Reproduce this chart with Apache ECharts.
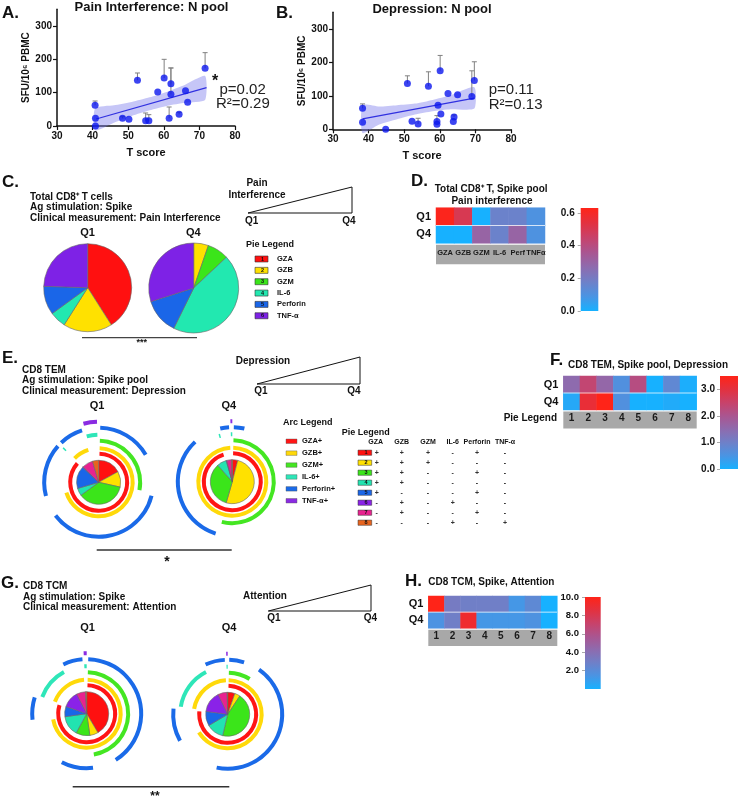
<!DOCTYPE html>
<html><head><meta charset="utf-8">
<script src="https://cdn.jsdelivr.net/npm/echarts@6.0.0/dist/echarts.min.js"></script>
<style>html,body{margin:0;padding:0;background:#fff;}#chart{width:738px;height:800px;}</style>
</head><body><div id="chart"></div>
<script>
// ================= DATA =================
const tScoreTicks = [30, 40, 50, 60, 70, 80];
const sfuTicks = [0, 100, 200, 300];

// Panel A: Pain Interference, N pool
const painT = [40.7, 40.8, 40.8, 48.4, 50.2, 52.6, 54.9, 55.8, 58.3, 60.1, 61.5, 62.0, 62.0, 64.3, 66.1, 66.7, 71.6];
const painSFU = [62, 23, 0, 23, 20, 137, 16, 16, 102, 144, 23, 127, 95, 35, 106, 71, 173];
const painSFUUpper = [75, null, null, 28, null, 159, 39, 34, null, 200, 57, 174, 174, 41, null, null, 220];
const painFitT = [41, 72];
const painFitSFU = [21, 115];
const painBandT = [40.7, 46, 51, 56, 61, 66, 71.6];
const painBandLo = [-13, 10, 30, 47, 61, 70, 78];
const painBandHi = [53, 62, 72, 86, 103, 124, 150];

// Panel B: Depression, N pool
const deprT = [38.3, 38.3, 44.8, 50.9, 52.2, 53.9, 56.8, 59.2, 59.2, 59.5, 60.1, 60.3, 62.3, 63.8, 64.0, 65.0, 69.0, 69.7];
const deprSFU = [63, 21, 0, 137, 24, 16, 129, 23, 15, 72, 175, 46, 107, 23, 37, 103, 98, 146];
const deprSFUUpper = [76, null, null, 160, null, 33, 172, 41, null, null, 221, null, null, null, 43, null, 175, 202];
const deprFitT = [38.3, 69.7];
const deprFitSFU = [31, 93];
const deprBandT = [38.3, 43, 48, 53, 58, 63, 69.7];
const deprBandLo = [-11, 14, 30, 44, 54, 60, 62];
const deprBandHi = [72, 68, 72, 77, 88, 102, 126];

// Panel C: pies (percent of cells)
const cytokines = ['GZA', 'GZB', 'GZM', 'IL-6', 'Perforin', 'TNF-α'];
const pieCQ1 = [41, 18, 0, 6, 10.5, 24.5];
const pieCQ4 = [0, 5.3, 7.7, 44.3, 12.8, 29.9];

// Panel D: heatmap
const heatDCols = ['GZA', 'GZB', 'GZM', 'IL-6', 'Perf', 'TNFα'];
const heatRows = ['Q4', 'Q1'];
const heatDQ1 = [0.62, 0.5, 0.0, 0.17, 0.17, 0.1];
const heatDQ4 = [0.0, 0.0, 0.3, 0.17, 0.3, 0.1];
const heatDTicks = [0, 0.2, 0.4, 0.6];

// Panel E / G: SPICE pies
const arcLegend = ['GZA+', 'GZB+', 'GZM+', 'IL-6+', 'Perforin+', 'TNF-α+'];
const phenotypeCols = ['GZA', 'GZB', 'GZM', 'IL-6', 'Perforin', 'TNF-α'];
const phenotypes = [
  ['+', '+', '+', '-', '+', '-'],
  ['+', '+', '+', '-', '-', '-'],
  ['+', '+', '-', '-', '+', '-'],
  ['+', '+', '-', '-', '-', '-'],
  ['+', '-', '-', '-', '+', '-'],
  ['-', '+', '-', '+', '-', '-'],
  ['-', '+', '-', '-', '+', '-'],
  ['-', '-', '-', '+', '-', '+']
];
const pieEQ1 = [17, 11.5, 36.5, 5.5, 16.5, 0.5, 8, 4.5];
const pieEQ4 = [4, 50.5, 34, 7, 0, 0.5, 3.5, 0.5];
const pieGQ1 = [41.5, 6.2, 10.3, 14.8, 7.5, 12.2, 6.7, 0.8];
const pieGQ4 = [5.3, 4, 44.4, 12.8, 10.6, 15.8, 6.7, 0.4];

// Panel F / H heatmaps
const heatNumCols = ['1', '2', '3', '4', '5', '6', '7', '8'];
const heatFQ1 = [1.5, 2.4, 1.6, 0.6, 2.2, 0.0, 0.8, 0.05];
const heatFQ4 = [0.15, 3.1, 3.5, 0.6, 0.0, 0.0, 0.1, 0.0];
const heatFTicks = [0, 1, 2, 3];
const heatHQ1 = [10, 3.2, 2.9, 2.9, 2.9, 1.3, 2.2, 0];
const heatHQ4 = [1.5, 2.9, 9.2, 1.3, 1.3, 1.3, 1.6, 0];
const heatHTicks = [2, 4, 6, 8, 10];

// ================= STYLE =================
const FONT = '"Liberation Sans", Arial, Helvetica, sans-serif';
const CMAP = ['#17B1FF', '#4A94E3', '#6F80C8', '#8E6BAE', '#AA5590', '#C8426A', '#E3313F', '#FF2418'];
const cytoColors = ['#FF1010', '#FFE100', '#3BE51A', '#22E8B0', '#1A66E8', '#7E22E6'];
const pieColors8 = ['#FF1010', '#FFE100', '#3BE51A', '#22E3B0', '#1A66E8', '#8A22E8', '#E8228F', '#E8641E'];
const ringColors = ['#FF1515', '#FFD90A', '#44E622', '#2EE6B8', '#1A6AE8', '#8A2BE2'];
const ringRadii = [[26.5, 30.5], [32, 36], [39.5, 43.5], [45.5, 49.5], [52.5, 56.5], [58.5, 62.5]];

const grids = [], xAxes = [], yAxes = [], series = [], visualMaps = [], G = [];

function addGrid(r) { grids.push(Object.assign({ containLabel: false, outerBoundsMode: 'none', show: false }, r)); return grids.length - 1; }
function txt(text, x, y, o) {
  o = o || {};
  const al = o.align || 'left';
  return { type: 'text', x, y, silent: true, z: o.z || 10,
    style: { text, fill: o.color || '#111', font: (o.weight || 'bold') + ' ' + (o.size || 10) + 'px ' + FONT,
      align: al, verticalAlign: 'middle', textAlign: al, textVerticalAlign: 'middle' } };
}
function line(x1, y1, x2, y2, o) { o = o || {}; return { type: 'line', silent: true, z: o.z || 10, shape: { x1, y1, x2, y2 }, style: { stroke: o.color || '#111', lineWidth: o.w || 1 } }; }
function rect(x, y, w, h, fill, o) { o = o || {}; return { type: 'rect', silent: true, z: o.z == null ? 10 : o.z, shape: { x, y, width: w, height: h }, style: { fill, stroke: o.stroke || null, lineWidth: o.lw || 0 } }; }
function tri(p) { return { type: 'polygon', silent: true, z: 10, shape: { points: p }, style: { fill: 'none', stroke: '#111', lineWidth: 1 } }; }

const boldLbl = (size, extra) => Object.assign({ fontFamily: FONT, fontWeight: 'bold', fontSize: size, color: '#111' }, extra || {});

// ---------- scatter panels ----------
function scatterPanel(rectDef, T, SFU, UP, fitT, fitS, bT, bLo, bHi) {
  const gi = addGrid(rectDef);
  xAxes.push({ type: 'value', gridIndex: gi, min: tScoreTicks[0], max: tScoreTicks[tScoreTicks.length - 1], interval: 10,
    name: 'T score', nameLocation: 'middle', nameGap: 21, nameTextStyle: boldLbl(11),
    axisLine: { show: true, onZero: false, lineStyle: { color: '#111', width: 1.5 } },
    axisTick: { show: true, length: 4, lineStyle: { color: '#111', width: 1.2 } },
    axisLabel: boldLbl(10, { margin: 5 }), splitLine: { show: false } });
  yAxes.push({ type: 'value', gridIndex: gi, min: 0, max: 350,
    name: 'SFU/10⁶ PBMC', nameLocation: 'middle', nameGap: 24, nameRotate: 90, nameTextStyle: boldLbl(10),
    axisLine: { show: true, onZero: false, lineStyle: { color: '#111', width: 1.5 } },
    axisTick: { show: true, length: 4, customValues: sfuTicks, lineStyle: { color: '#111', width: 1.2 } },
    axisLabel: boldLbl(10, { margin: 5, customValues: sfuTicks }), splitLine: { show: false } });
  series.push({ type: 'custom', xAxisIndex: gi, yAxisIndex: gi, silent: true, z: 1, clip: false,
    data: [[bT[0], bLo[0]]],
    renderItem: (params, api) => {
      const pts = [];
      bT.forEach((t, i) => pts.push(api.coord([t, bHi[i]])));
      for (let i = bT.length - 1; i >= 0; i--) pts.push(api.coord([bT[i], bLo[i]]));
      return { type: 'polygon', shape: { points: pts, smooth: 0.2 }, style: { fill: 'rgba(120,120,235,0.42)' } };
    } });
  series.push({ type: 'line', xAxisIndex: gi, yAxisIndex: gi, silent: true, z: 2, symbol: 'none',
    lineStyle: { color: '#3030E0', width: 1.2 }, data: fitT.map((t, i) => [t, fitS[i]]) });
  series.push({ type: 'custom', xAxisIndex: gi, yAxisIndex: gi, silent: true, z: 3, encode: { x: 0, y: 1 },
    data: T.map((t, i) => [t, SFU[i], UP[i]]).filter(d => d[2] != null),
    renderItem: (params, api) => {
      const p0 = api.coord([api.value(0), api.value(1)]);
      const p1 = api.coord([api.value(0), api.value(2)]);
      const st = { stroke: '#808080', lineWidth: 1 };
      return { type: 'group', children: [
        { type: 'line', shape: { x1: p0[0], y1: p0[1], x2: p1[0], y2: p1[1] }, style: st },
        { type: 'line', shape: { x1: p1[0] - 2.5, y1: p1[1], x2: p1[0] + 2.5, y2: p1[1] }, style: st }] };
    } });
  series.push({ type: 'scatter', xAxisIndex: gi, yAxisIndex: gi, silent: true, z: 4, symbolSize: 7,
    itemStyle: { color: '#0B16EE' }, data: T.map((t, i) => [t, SFU[i]]) });
}
scatterPanel({ left: 57, top: 9.3, width: 178, height: 116.7 }, painT, painSFU, painSFUUpper, painFitT, painFitSFU, painBandT, painBandLo, painBandHi);
scatterPanel({ left: 333, top: 12.3, width: 178, height: 117 }, deprT, deprSFU, deprSFUUpper, deprFitT, deprFitSFU, deprBandT, deprBandLo, deprBandHi);

// ---------- heatmaps & colorbars ----------
function heatPanel(rectDef, cols, q1, q4, max, colLblSize, colLblMargin, cbRect, ticks, cbMargin, cbLblSize) {
  const gi = addGrid(rectDef);
  xAxes.push({ type: 'category', gridIndex: gi, data: cols, axisLine: { show: false }, axisTick: { show: false },
    axisLabel: boldLbl(colLblSize, { margin: colLblMargin, color: '#1a1a1a', interval: 0 }), splitLine: { show: false } });
  yAxes.push({ type: 'category', gridIndex: gi, data: heatRows, axisLine: { show: false }, axisTick: { show: false },
    axisLabel: boldLbl(11, { margin: 5 }), splitLine: { show: false } });
  const data = [];
  cols.forEach((c, i) => { data.push([i, 1, q1[i]]); data.push([i, 0, q4[i]]); });
  series.push({ type: 'heatmap', xAxisIndex: gi, yAxisIndex: gi, silent: true, data, itemStyle: { borderWidth: 0 }, emphasis: { disabled: true } });
  visualMaps.push({ type: 'continuous', show: false, min: 0, max, seriesIndex: series.length - 1, inRange: { color: CMAP } });
  // colorbar
  const ci = addGrid(cbRect);
  xAxes.push({ type: 'value', gridIndex: ci, min: 0, max: 1, show: false });
  yAxes.push({ type: 'value', gridIndex: ci, min: 0, max, axisLine: { show: false },
    axisTick: { show: true, length: 3, customValues: ticks, lineStyle: { color: '#aaa' } },
    axisLabel: boldLbl(cbLblSize, { margin: cbMargin, customValues: ticks, formatter: v => v.toFixed(1) }),
    splitLine: { show: false } });
  const grad = new echarts.graphic.LinearGradient(0, 1, 0, 0, CMAP.map((c, i) => ({ offset: i / (CMAP.length - 1), color: c })));
  series.push({ type: 'custom', xAxisIndex: ci, yAxisIndex: ci, silent: true, data: [[0, 0]],
    renderItem: (params, api) => {
      const cs = params.coordSys;
      const top = api.coord([0, max])[1], bot = api.coord([0, 0])[1];
      return { type: 'rect', shape: { x: cs.x, y: top, width: cs.width, height: bot - top }, style: { fill: grad } };
    } });
  // gray label strip & row separator
  G.push(rect(rectDef.left, rectDef.top + rectDef.height + 1.5, rectDef.width, colLblMargin * 2 + colLblSize + 1, '#A8A8A8', { z: -10 }));
  G.push(line(rectDef.left, rectDef.top + rectDef.height / 2, rectDef.left + rectDef.width, rectDef.top + rectDef.height / 2, { color: 'rgba(255,255,255,0.75)', w: 1 }));
}
heatPanel({ left: 436, top: 207.7, width: 109, height: 35.6 }, heatDCols, heatDQ1, heatDQ4, 0.63, 7.5, 5.5,
  { left: 580.7, top: 208, width: 17.6, height: 103 }, heatDTicks, 6, 10);
heatPanel({ left: 563.3, top: 376, width: 133.4, height: 34 }, heatNumCols, heatFQ1, heatFQ4, 3.5, 10, 3,
  { left: 720, top: 376, width: 18, height: 93 }, heatFTicks, 5, 10);
heatPanel({ left: 428.3, top: 596, width: 129, height: 32.3 }, heatNumCols, heatHQ1, heatHQ4, 10, 10, 2.6,
  { left: 585, top: 597, width: 15.7, height: 92 }, heatHTicks, 6, 9.5);

// ---------- pies ----------
function pie(center, radius, values, colors) {
  series.push({ type: 'pie', center, radius, startAngle: 90, clockwise: true, silent: true, minAngle: 0,
    avoidLabelOverlap: false, label: { show: false }, labelLine: { show: false }, emphasis: { disabled: true, scale: false },
    data: values.map((v, i) => ({ value: v, name: String(i + 1),
      itemStyle: { color: colors[i], borderColor: '#666', borderWidth: v > 0 ? 0.6 : 0 } })) });
}
pie([87.7, 287.7], 44, pieCQ1, cytoColors);
pie([193.7, 288], 45, pieCQ4, cytoColors);

function ringSegments(slices, m) {
  const total = slices.reduce((a, b) => a + b, 0);
  const segs = []; let cur = null, pos = 0;
  slices.forEach((v, i) => {
    const a0 = pos / total * 360, a1 = (pos + v) / total * 360; pos += v;
    if (v <= 0) return;
    if (phenotypes[i][m] === '+') {
      if (cur && Math.abs(cur[1] - a0) < 1e-6) cur[1] = a1; else { cur = [a0, a1]; segs.push(cur); }
    } else cur = null;
  });
  return segs;
}
function spice(center, slices) {
  pie(center, 22, slices, pieColors8);
  for (let m = 0; m < 6; m++) {
    const segs = ringSegments(slices, m);
    if (!segs.length) continue;
    const data = []; let at = 0;
    segs.forEach(([s, e]) => {
      const len = e - s, pad = len > 6 ? 1.6 : 0;
      const s2 = s + pad, e2 = e - pad;
      data.push({ value: Math.max(0, s2 - at), itemStyle: { color: 'rgba(0,0,0,0)' } });
      data.push({ value: e2 - s2, itemStyle: { color: ringColors[m] } });
      at = e2;
    });
    data.push({ value: Math.max(0, 360 - at), itemStyle: { color: 'rgba(0,0,0,0)' } });
    series.push({ type: 'pie', center, radius: ringRadii[m], startAngle: 90, clockwise: true, silent: true, minAngle: 0,
      avoidLabelOverlap: false, label: { show: false }, labelLine: { show: false }, emphasis: { disabled: true, scale: false },
      itemStyle: { borderWidth: 0 }, data });
  }
}
spice([98.7, 482.3], pieEQ1);
spice([232.3, 481.7], pieEQ4);
spice([86.7, 713.7], pieGQ1);
spice([227.7, 714.3], pieGQ4);

// ---------- texts & decorations ----------
G.push(txt('A.', 2, 13, { size: 17 }));
G.push(txt('Pain Interference: N pool', 151.5, 7, { size: 13, align: 'center' }));
G.push(txt('B.', 276, 13, { size: 17 }));
G.push(txt('Depression: N pool', 432, 9, { size: 13, align: 'center' }));
G.push(txt('*', 212, 82, { size: 16 }));
G.push(txt('p=0.02', 219.5, 89.5, { size: 15, weight: 'normal', color: '#222' }));
G.push(txt('R²=0.29', 216, 103.5, { size: 15, weight: 'normal', color: '#222' }));
G.push(txt('p=0.11', 488.7, 90, { size: 15, weight: 'normal', color: '#222' }));
G.push(txt('R²=0.13', 488.7, 105, { size: 15, weight: 'normal', color: '#222' }));

// C
G.push(txt('C.', 2, 182, { size: 17 }));
G.push(txt('Total CD8⁺ T cells', 30, 197));
G.push(txt('Ag stimulation: Spike', 30, 207.5));
G.push(txt('Clinical measurement: Pain Interference', 30, 218));
G.push(txt('Pain', 257, 183, { align: 'center' }));
G.push(txt('Interference', 257, 195, { align: 'center' }));
G.push(tri([[248, 213], [352, 213], [352, 187]]));
G.push(txt('Q1', 251.7, 221.5, { align: 'center' }));
G.push(txt('Q4', 349, 221.5, { align: 'center' }));
G.push(txt('Q1', 87.5, 233.3, { size: 11, align: 'center' }));
G.push(txt('Q4', 193.3, 233.3, { size: 11, align: 'center' }));
G.push(txt('Pie Legend', 246, 245, { size: 9 }));
cytokines.forEach((c, i) => {
  const y = 259 + i * 11.35;
  G.push(rect(255, y - 3, 13, 6, cytoColors[i], { stroke: '#333', lw: 0.6 }));
  G.push(txt(String(i + 1), 262.5, y, { size: 5.5, align: 'center' }));
  G.push(txt(c, 277, y, { size: 7.5 }));
});
G.push(line(82, 337.7, 197, 337.7, { color: '#444', w: 1.2 }));
G.push(txt('***', 141.7, 343, { size: 9, align: 'center' }));

// D
G.push(txt('D.', 411, 181.7, { size: 17 }));
G.push(txt('Total CD8⁺ T, Spike pool', 434.7, 189));
G.push(txt('Pain interference', 492, 201, { align: 'center' }));

// E
G.push(txt('E.', 2, 358, { size: 17 }));
G.push(txt('CD8 TEM', 22, 370));
G.push(txt('Ag stimulation: Spike pool', 22, 380.5));
G.push(txt('Clinical measurement: Depression', 22, 391));
G.push(txt('Depression', 263, 361.7, { align: 'center' }));
G.push(tri([[257, 384], [360, 384], [360, 357]]));
G.push(txt('Q1', 261, 391.5, { align: 'center' }));
G.push(txt('Q4', 354, 391.5, { align: 'center' }));
G.push(txt('Q1', 97, 405.7, { size: 11, align: 'center' }));
G.push(txt('Q4', 228.8, 405.7, { size: 11, align: 'center' }));
G.push(line(96.7, 550, 231.7, 550, { color: '#333', w: 1.5 }));
G.push(txt('*', 167, 562, { size: 14, align: 'center' }));
G.push(txt('Arc Legend', 283, 423, { size: 9 }));
arcLegend.forEach((a, i) => {
  const y = 441 + i * 11.9;
  G.push(rect(286, y - 2, 11, 4.5, ringColors[i], { stroke: '#555', lw: 0.4 }));
  G.push(txt(a, 302, y, { size: 7.5 }));
});
G.push(txt('Pie Legend', 341.7, 433, { size: 9 }));
const tblX = [375.7, 401.7, 428, 452.7, 477, 505];
phenotypeCols.forEach((c, j) => G.push(txt(c, tblX[j], 441.7, { size: 7, align: 'center' })));
phenotypes.forEach((row, i) => {
  const y = 452.7 + i * 10;
  G.push(rect(358, y - 2.6, 13.7, 5.2, pieColors8[i], { stroke: '#333', lw: 0.5 }));
  G.push(txt(String(i + 1), 366, y, { size: 5.5, align: 'center' }));
  row.forEach((s, j) => G.push(txt(s, tblX[j] + (j === 0 ? 1 : 0), y, { size: 7, align: 'center', color: '#333' })));
});

// F
G.push(txt('F.', 550, 360, { size: 17 }));
G.push(txt('CD8 TEM, Spike pool, Depression', 568, 365));
G.push(txt('Pie Legend', 557, 418.3, { align: 'right' }));

// G
G.push(txt('G.', 1, 583, { size: 17 }));
G.push(txt('CD8 TCM', 23, 586.7));
G.push(txt('Ag stimulation: Spike', 23, 597.7));
G.push(txt('Clinical measurement: Attention', 23, 607.7));
G.push(txt('Attention', 265, 596.7, { align: 'center' }));
G.push(tri([[268.3, 611], [371, 611], [371, 585]]));
G.push(txt('Q1', 274, 618.5, { align: 'center' }));
G.push(txt('Q4', 370.5, 618.5, { align: 'center' }));
G.push(txt('Q1', 87.5, 628.3, { size: 11, align: 'center' }));
G.push(txt('Q4', 229, 628.3, { size: 11, align: 'center' }));
G.push(line(72.7, 786.7, 229.3, 786.7, { color: '#333', w: 1.5 }));
G.push(txt('**', 155, 797, { size: 12, align: 'center' }));

// H
G.push(txt('H.', 405, 581.7, { size: 17 }));
G.push(txt('CD8 TCM, Spike, Attention', 428.3, 582.7));

const chart = echarts.init(document.getElementById('chart'), null, { renderer: 'canvas', width: 738, height: 800 });
chart.setOption({
  animation: false,
  backgroundColor: '#ffffff',
  textStyle: { fontFamily: FONT },
  grid: grids, xAxis: xAxes, yAxis: yAxes,
  visualMap: visualMaps,
  series,
  graphic: { elements: G }
});
</script>
</body></html>
